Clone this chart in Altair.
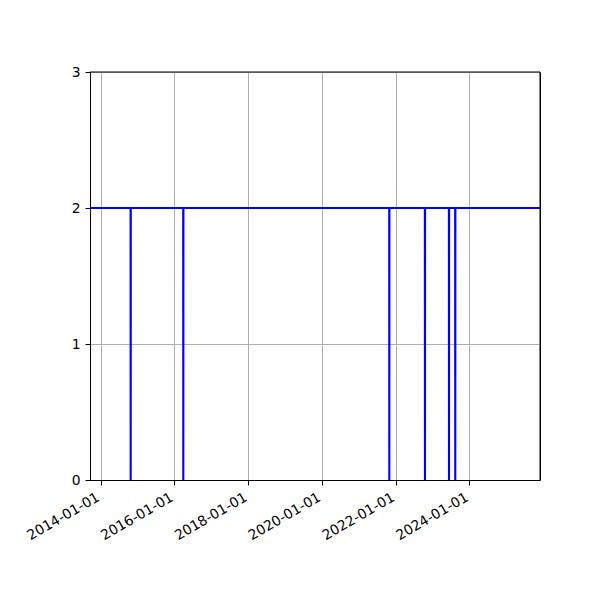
import altair as alt
import pandas as pd

# series: value is 2 except on a few single days where it drops to 0
dates = [
    "2013-09-01",
    "2014-10-26", "2014-10-27", "2014-10-28",
    "2016-03-30", "2016-03-31", "2016-04-01",
    "2021-10-30", "2021-10-31", "2021-11-01",
    "2022-10-18", "2022-10-19", "2022-10-20",
    "2023-06-13", "2023-06-14", "2023-06-15",
    "2023-08-14", "2023-08-15", "2023-08-16",
    "2026-01-01",
]
values = [
    2,
    2, 0, 2,
    2, 0, 2,
    2, 0, 2,
    2, 0, 2,
    2, 0, 2,
    2, 0, 2,
    2,
]
x_domain = ["2013-09-19", "2025-12-01"]
tick_years = [2014, 2016, 2018, 2020, 2022, 2024]
y_ticks = [0, 1, 2, 3]

df = pd.DataFrame({"date": dates, "value": values})

W, H = 450, 408

line = alt.Chart(df).mark_line(
    color="#0000ff", strokeWidth=2.1, clip=True, interpolate="linear"
).encode(
    x=alt.X(
        "date:T",
        scale=alt.Scale(type="utc", domain=x_domain, nice=False),
        axis=alt.Axis(
            title=None,
            values=[alt.DateTime(year=y, month=1, date=1, utc=True) for y in tick_years],
            labelExpr="utcFormat(datum.value, '%Y-%m-%d')",
            labelAngle=330,
            labelAlign="right",
            labelBaseline="top",
            labelFont="DejaVu Sans",
            labelFontSize=13.9,
            labelColor="black",
            labelPadding=5,
            labelOffset=-6,
            tickColor="black",
            tickSize=5,
            domainColor="black",
            grid=True,
            gridColor="#b0b0b0",
            gridWidth=1,
            labelFlush=False,
            labelOverlap=False,
        ),
    ),
    y=alt.Y(
        "value:Q",
        scale=alt.Scale(domain=[0, 3], nice=False, zero=False),
        axis=alt.Axis(
            title=None,
            values=y_ticks,
            format="d",
            labelFont="DejaVu Sans",
            labelFontSize=13.9,
            labelColor="black",
            labelPadding=5,
            tickColor="black",
            tickSize=5,
            domainColor="black",
            grid=True,
            gridColor="#b0b0b0",
            gridWidth=1,
        ),
    ),
)

top_edge = alt.Chart().mark_rule(color="black", strokeWidth=1).encode(
    x=alt.value(0), x2=alt.value(W), y=alt.value(0)
)
right_edge = alt.Chart().mark_rule(color="black", strokeWidth=1).encode(
    x=alt.value(W), y=alt.value(0), y2=alt.value(H)
)

chart = alt.layer(line, top_edge, right_edge).properties(
    width=W,
    height=H,
    padding={"left": 82, "top": 64, "right": 52, "bottom": 104},
    autosize=alt.AutoSizeParams(type="none"),
).configure(
    background="white"
).configure_view(
    stroke="black", strokeWidth=1
)

chart.save("out.html", embed_options={"renderer": "svg", "actions": False})
